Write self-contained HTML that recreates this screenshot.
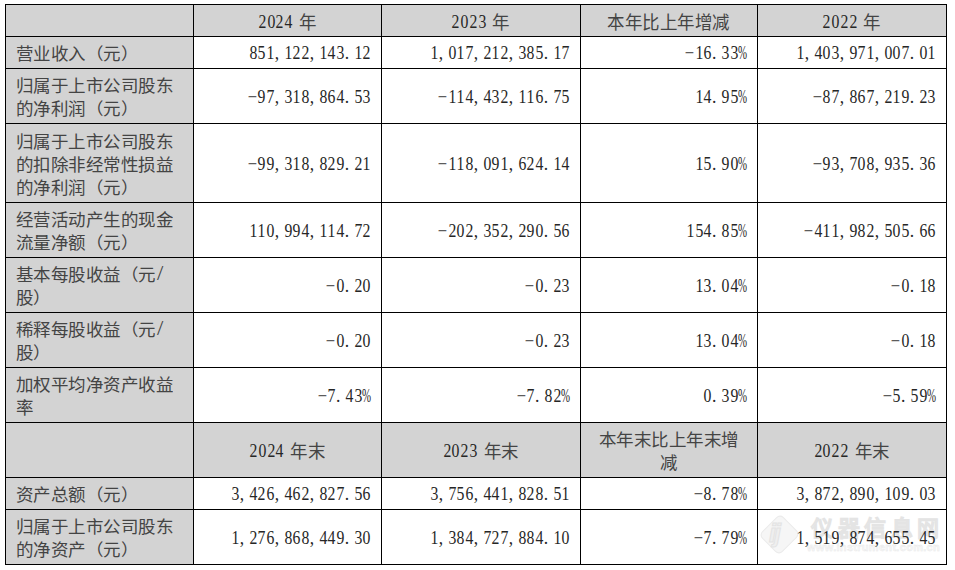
<!DOCTYPE html>
<html lang="zh-CN"><head><meta charset="utf-8">
<style>
html,body{margin:0;padding:0;background:#fff;width:955px;height:570px;overflow:hidden;position:relative}
.g{position:absolute;background:#d3d3d3}
.l{position:absolute;background:#000}
.t{position:absolute;font-family:"Liberation Serif",serif;font-size:17.5px;line-height:24px;color:#262626;white-space:nowrap}
.z{letter-spacing:0.5px;color:#444;transform:scaleY(.95)}
.n{transform:scaleY(1.04)}
.k{color:#444;letter-spacing:.45px;position:relative;top:1px}
.ctr{text-align:center}
.r{text-align:right}
i{font-style:normal;display:inline-block}
.c{width:0.5em;text-align:left}
.m{width:0.5em;text-align:left;transform:translateX(-1.2px) scaleX(0.95);transform-origin:0 50%}
.p{width:0.5em;text-align:left;transform:scaleX(.62);transform-origin:0 50%}
.s{width:6px}
.d{width:.5em;text-align:center;transform:scaleX(.9)}
.sl{transform:translateY(-1px) scale(1.3,1.3);transform-origin:0 80%;margin-left:1px}
.wm{position:absolute;font-family:"Liberation Sans",sans-serif;font-weight:bold;color:#f9f9f9;-webkit-text-stroke:0.7px #e4e4e4;white-space:nowrap}
</style></head><body>
<div class="g" style="left:5px;top:4px;width:941px;height:32px"></div>
<div class="g" style="left:5px;top:4px;width:188px;height:560px"></div>
<div class="g" style="left:5px;top:422px;width:941px;height:55px"></div>
<div style="position:absolute;left:765px;top:520px;width:27px;height:27px;background:#f6f6f6;border:1.5px solid #ebebeb;border-radius:5px;transform:rotate(45deg) scaleY(1.05)"></div>
<div class="wm" style="left:769px;top:518px;font-size:25px;line-height:30px;font-style:italic;color:#efefef;-webkit-text-stroke:1px #e3e3e3;letter-spacing:-2px">ij</div>
<div class="wm" style="left:811px;top:516px;font-size:22px;line-height:26px;letter-spacing:4.5px">仪器信息网</div>
<div class="wm" style="left:807px;top:541px;font-size:11px;line-height:13px;letter-spacing:0.3px;-webkit-text-stroke:0.4px #e8e8e8">www.instrument.com.cn</div>
<div class="t ctr n" style="left:193px;width:188px;top:9.899999999999999px"><i class="d">2</i><i class="d">0</i><i class="d">2</i><i class="d">4</i><i class="s"> </i><span class="k">年</span></div>
<div class="t ctr n" style="left:381px;width:199px;top:9.899999999999999px"><i class="d">2</i><i class="d">0</i><i class="d">2</i><i class="d">3</i><i class="s"> </i><span class="k">年</span></div>
<div class="t ctr n" style="left:580px;width:177px;top:9.899999999999999px"><span class="k">本</span><span class="k">年</span><span class="k">比</span><span class="k">上</span><span class="k">年</span><span class="k">增</span><span class="k">减</span></div>
<div class="t ctr n" style="left:757px;width:189px;top:9.899999999999999px"><i class="d">2</i><i class="d">0</i><i class="d">2</i><i class="d">2</i><i class="s"> </i><span class="k">年</span></div>
<div class="t z" style="left:15.5px;top:42.0px">营业收入（元）</div>
<div class="t r n" style="right:584px;top:41.2px"><i class="d">8</i><i class="d">5</i><i class="d">1</i><i class="c">,</i><i class="d">1</i><i class="d">2</i><i class="d">2</i><i class="c">,</i><i class="d">1</i><i class="d">4</i><i class="d">3</i><i class="c">.</i><i class="d">1</i><i class="d">2</i></div>
<div class="t r n" style="right:385px;top:41.2px"><i class="d">1</i><i class="c">,</i><i class="d">0</i><i class="d">1</i><i class="d">7</i><i class="c">,</i><i class="d">2</i><i class="d">1</i><i class="d">2</i><i class="c">,</i><i class="d">3</i><i class="d">8</i><i class="d">5</i><i class="c">.</i><i class="d">1</i><i class="d">7</i></div>
<div class="t r n" style="right:208px;top:41.2px"><i class="m">&#8722;</i><i class="d">1</i><i class="d">6</i><i class="c">.</i><i class="d">3</i><i class="d">3</i><i class="p">%</i></div>
<div class="t r n" style="right:19px;top:41.2px"><i class="d">1</i><i class="c">,</i><i class="d">4</i><i class="d">0</i><i class="d">3</i><i class="c">,</i><i class="d">9</i><i class="d">7</i><i class="d">1</i><i class="c">,</i><i class="d">0</i><i class="d">0</i><i class="d">7</i><i class="c">.</i><i class="d">0</i><i class="d">1</i></div>
<div class="t z" style="left:15.5px;top:73.5px">归属于上市公司股东<br>的净利润（元）</div>
<div class="t r n" style="right:584px;top:84.7px"><i class="m">&#8722;</i><i class="d">9</i><i class="d">7</i><i class="c">,</i><i class="d">3</i><i class="d">1</i><i class="d">8</i><i class="c">,</i><i class="d">8</i><i class="d">6</i><i class="d">4</i><i class="c">.</i><i class="d">5</i><i class="d">3</i></div>
<div class="t r n" style="right:385px;top:84.7px"><i class="m">&#8722;</i><i class="d">1</i><i class="d">1</i><i class="d">4</i><i class="c">,</i><i class="d">4</i><i class="d">3</i><i class="d">2</i><i class="c">,</i><i class="d">1</i><i class="d">1</i><i class="d">6</i><i class="c">.</i><i class="d">7</i><i class="d">5</i></div>
<div class="t r n" style="right:208px;top:84.7px"><i class="d">1</i><i class="d">4</i><i class="c">.</i><i class="d">9</i><i class="d">5</i><i class="p">%</i></div>
<div class="t r n" style="right:19px;top:84.7px"><i class="m">&#8722;</i><i class="d">8</i><i class="d">7</i><i class="c">,</i><i class="d">8</i><i class="d">6</i><i class="d">7</i><i class="c">,</i><i class="d">2</i><i class="d">1</i><i class="d">9</i><i class="c">.</i><i class="d">2</i><i class="d">3</i></div>
<div class="t z" style="left:15.5px;top:128.5px">归属于上市公司股东<br>的扣除非经常性损益<br>的净利润（元）</div>
<div class="t r n" style="right:584px;top:151.7px"><i class="m">&#8722;</i><i class="d">9</i><i class="d">9</i><i class="c">,</i><i class="d">3</i><i class="d">1</i><i class="d">8</i><i class="c">,</i><i class="d">8</i><i class="d">2</i><i class="d">9</i><i class="c">.</i><i class="d">2</i><i class="d">1</i></div>
<div class="t r n" style="right:385px;top:151.7px"><i class="m">&#8722;</i><i class="d">1</i><i class="d">1</i><i class="d">8</i><i class="c">,</i><i class="d">0</i><i class="d">9</i><i class="d">1</i><i class="c">,</i><i class="d">6</i><i class="d">2</i><i class="d">4</i><i class="c">.</i><i class="d">1</i><i class="d">4</i></div>
<div class="t r n" style="right:208px;top:151.7px"><i class="d">1</i><i class="d">5</i><i class="c">.</i><i class="d">9</i><i class="d">0</i><i class="p">%</i></div>
<div class="t r n" style="right:19px;top:151.7px"><i class="m">&#8722;</i><i class="d">9</i><i class="d">3</i><i class="c">,</i><i class="d">7</i><i class="d">0</i><i class="d">8</i><i class="c">,</i><i class="d">9</i><i class="d">3</i><i class="d">5</i><i class="c">.</i><i class="d">3</i><i class="d">6</i></div>
<div class="t z" style="left:15.5px;top:207.5px">经营活动产生的现金<br>流量净额（元）</div>
<div class="t r n" style="right:584px;top:218.7px"><i class="d">1</i><i class="d">1</i><i class="d">0</i><i class="c">,</i><i class="d">9</i><i class="d">9</i><i class="d">4</i><i class="c">,</i><i class="d">1</i><i class="d">1</i><i class="d">4</i><i class="c">.</i><i class="d">7</i><i class="d">2</i></div>
<div class="t r n" style="right:385px;top:218.7px"><i class="m">&#8722;</i><i class="d">2</i><i class="d">0</i><i class="d">2</i><i class="c">,</i><i class="d">3</i><i class="d">5</i><i class="d">2</i><i class="c">,</i><i class="d">2</i><i class="d">9</i><i class="d">0</i><i class="c">.</i><i class="d">5</i><i class="d">6</i></div>
<div class="t r n" style="right:208px;top:218.7px"><i class="d">1</i><i class="d">5</i><i class="d">4</i><i class="c">.</i><i class="d">8</i><i class="d">5</i><i class="p">%</i></div>
<div class="t r n" style="right:19px;top:218.7px"><i class="m">&#8722;</i><i class="d">4</i><i class="d">1</i><i class="d">1</i><i class="c">,</i><i class="d">9</i><i class="d">8</i><i class="d">2</i><i class="c">,</i><i class="d">5</i><i class="d">0</i><i class="d">5</i><i class="c">.</i><i class="d">6</i><i class="d">6</i></div>
<div class="t z" style="left:15.5px;top:262.5px">基本每股收益（元<i class="sl">/</i><br>股）</div>
<div class="t r n" style="right:584px;top:273.7px"><i class="m">&#8722;</i><i class="d">0</i><i class="c">.</i><i class="d">2</i><i class="d">0</i></div>
<div class="t r n" style="right:385px;top:273.7px"><i class="m">&#8722;</i><i class="d">0</i><i class="c">.</i><i class="d">2</i><i class="d">3</i></div>
<div class="t r n" style="right:208px;top:273.7px"><i class="d">1</i><i class="d">3</i><i class="c">.</i><i class="d">0</i><i class="d">4</i><i class="p">%</i></div>
<div class="t r n" style="right:19px;top:273.7px"><i class="m">&#8722;</i><i class="d">0</i><i class="c">.</i><i class="d">1</i><i class="d">8</i></div>
<div class="t z" style="left:15.5px;top:317.5px">稀释每股收益（元<i class="sl">/</i><br>股）</div>
<div class="t r n" style="right:584px;top:328.7px"><i class="m">&#8722;</i><i class="d">0</i><i class="c">.</i><i class="d">2</i><i class="d">0</i></div>
<div class="t r n" style="right:385px;top:328.7px"><i class="m">&#8722;</i><i class="d">0</i><i class="c">.</i><i class="d">2</i><i class="d">3</i></div>
<div class="t r n" style="right:208px;top:328.7px"><i class="d">1</i><i class="d">3</i><i class="c">.</i><i class="d">0</i><i class="d">4</i><i class="p">%</i></div>
<div class="t r n" style="right:19px;top:328.7px"><i class="m">&#8722;</i><i class="d">0</i><i class="c">.</i><i class="d">1</i><i class="d">8</i></div>
<div class="t z" style="left:15.5px;top:372.5px">加权平均净资产收益<br>率</div>
<div class="t r n" style="right:584px;top:383.7px"><i class="m">&#8722;</i><i class="d">7</i><i class="c">.</i><i class="d">4</i><i class="d">3</i><i class="p">%</i></div>
<div class="t r n" style="right:385px;top:383.7px"><i class="m">&#8722;</i><i class="d">7</i><i class="c">.</i><i class="d">8</i><i class="d">2</i><i class="p">%</i></div>
<div class="t r n" style="right:208px;top:383.7px"><i class="d">0</i><i class="c">.</i><i class="d">3</i><i class="d">9</i><i class="p">%</i></div>
<div class="t r n" style="right:19px;top:383.7px"><i class="m">&#8722;</i><i class="d">5</i><i class="c">.</i><i class="d">5</i><i class="d">9</i><i class="p">%</i></div>
<div class="t ctr n" style="left:193px;width:188px;top:439.4px"><i class="d">2</i><i class="d">0</i><i class="d">2</i><i class="d">4</i><i class="s"> </i><span class="k">年</span><span class="k">末</span></div>
<div class="t ctr n" style="left:381px;width:199px;top:439.4px"><i class="d">2</i><i class="d">0</i><i class="d">2</i><i class="d">3</i><i class="s"> </i><span class="k">年</span><span class="k">末</span></div>
<div class="t z ctr" style="left:580px;width:177px;top:427.5px">本年末比上年末增<br>减</div>
<div class="t ctr n" style="left:757px;width:189px;top:439.4px"><i class="d">2</i><i class="d">0</i><i class="d">2</i><i class="d">2</i><i class="s"> </i><span class="k">年</span><span class="k">末</span></div>
<div class="t z" style="left:15.5px;top:483.0px">资产总额（元）</div>
<div class="t r n" style="right:584px;top:482.2px"><i class="d">3</i><i class="c">,</i><i class="d">4</i><i class="d">2</i><i class="d">6</i><i class="c">,</i><i class="d">4</i><i class="d">6</i><i class="d">2</i><i class="c">,</i><i class="d">8</i><i class="d">2</i><i class="d">7</i><i class="c">.</i><i class="d">5</i><i class="d">6</i></div>
<div class="t r n" style="right:385px;top:482.2px"><i class="d">3</i><i class="c">,</i><i class="d">7</i><i class="d">5</i><i class="d">6</i><i class="c">,</i><i class="d">4</i><i class="d">4</i><i class="d">1</i><i class="c">,</i><i class="d">8</i><i class="d">2</i><i class="d">8</i><i class="c">.</i><i class="d">5</i><i class="d">1</i></div>
<div class="t r n" style="right:208px;top:482.2px"><i class="m">&#8722;</i><i class="d">8</i><i class="c">.</i><i class="d">7</i><i class="d">8</i><i class="p">%</i></div>
<div class="t r n" style="right:19px;top:482.2px"><i class="d">3</i><i class="c">,</i><i class="d">8</i><i class="d">7</i><i class="d">2</i><i class="c">,</i><i class="d">8</i><i class="d">9</i><i class="d">0</i><i class="c">,</i><i class="d">1</i><i class="d">0</i><i class="d">9</i><i class="c">.</i><i class="d">0</i><i class="d">3</i></div>
<div class="t z" style="left:15.5px;top:514.5px">归属于上市公司股东<br>的净资产（元）</div>
<div class="t r n" style="right:584px;top:525.7px"><i class="d">1</i><i class="c">,</i><i class="d">2</i><i class="d">7</i><i class="d">6</i><i class="c">,</i><i class="d">8</i><i class="d">6</i><i class="d">8</i><i class="c">,</i><i class="d">4</i><i class="d">4</i><i class="d">9</i><i class="c">.</i><i class="d">3</i><i class="d">0</i></div>
<div class="t r n" style="right:385px;top:525.7px"><i class="d">1</i><i class="c">,</i><i class="d">3</i><i class="d">8</i><i class="d">4</i><i class="c">,</i><i class="d">7</i><i class="d">2</i><i class="d">7</i><i class="c">,</i><i class="d">8</i><i class="d">8</i><i class="d">4</i><i class="c">.</i><i class="d">1</i><i class="d">0</i></div>
<div class="t r n" style="right:208px;top:525.7px"><i class="m">&#8722;</i><i class="d">7</i><i class="c">.</i><i class="d">7</i><i class="d">9</i><i class="p">%</i></div>
<div class="t r n" style="right:19px;top:525.7px"><i class="d">1</i><i class="c">,</i><i class="d">5</i><i class="d">1</i><i class="d">9</i><i class="c">,</i><i class="d">8</i><i class="d">7</i><i class="d">4</i><i class="c">,</i><i class="d">6</i><i class="d">5</i><i class="d">5</i><i class="c">.</i><i class="d">4</i><i class="d">5</i></div>
<div class="l" style="left:5px;top:4px;width:942px;height:1px"></div>
<div class="l" style="left:5px;top:36px;width:942px;height:1px"></div>
<div class="l" style="left:5px;top:68px;width:942px;height:1px"></div>
<div class="l" style="left:5px;top:123px;width:942px;height:1px"></div>
<div class="l" style="left:5px;top:202px;width:942px;height:1px"></div>
<div class="l" style="left:5px;top:257px;width:942px;height:1px"></div>
<div class="l" style="left:5px;top:312px;width:942px;height:1px"></div>
<div class="l" style="left:5px;top:367px;width:942px;height:1px"></div>
<div class="l" style="left:5px;top:422px;width:942px;height:1px"></div>
<div class="l" style="left:5px;top:477px;width:942px;height:1px"></div>
<div class="l" style="left:5px;top:509px;width:942px;height:1px"></div>
<div class="l" style="left:5px;top:564px;width:942px;height:1px"></div>
<div class="l" style="left:5px;top:4px;width:1px;height:561px"></div>
<div class="l" style="left:193px;top:4px;width:1px;height:561px"></div>
<div class="l" style="left:381px;top:4px;width:1px;height:561px"></div>
<div class="l" style="left:580px;top:4px;width:1px;height:561px"></div>
<div class="l" style="left:757px;top:4px;width:1px;height:561px"></div>
<div class="l" style="left:946px;top:4px;width:1px;height:561px"></div>
</body></html>
